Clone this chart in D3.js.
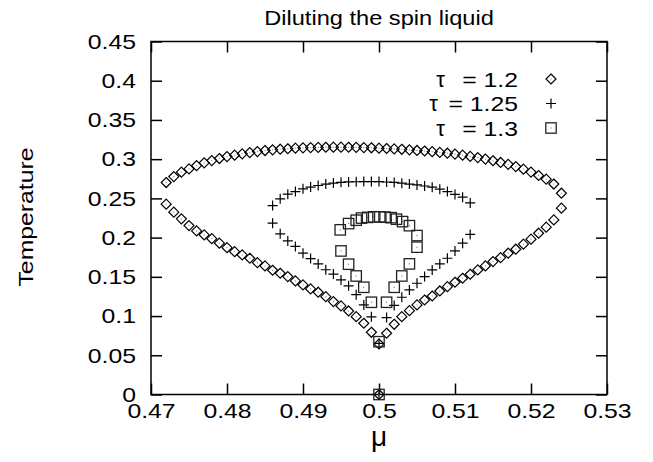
<!DOCTYPE html>
<html><head><meta charset="utf-8">
<script src="https://cdn.jsdelivr.net/npm/d3@7"></script>
<style>body{margin:0;background:#fff} svg{display:block} text{font-family:"Liberation Sans",Arial,sans-serif}</style>
</head><body><svg id="c" width="653" height="462"></svg>
<script>
// ---------- data ----------
const xTickVals = [0.47,0.48,0.49,0.50,0.51,0.52,0.53];
const xTickLabels = ["0.47","0.48","0.49","0.5","0.51","0.52","0.53"];
const yTickVals = [0,0.05,0.10,0.15,0.20,0.25,0.30,0.35,0.40,0.45];
const yTickLabels = ["0","0.05","0.1","0.15","0.2","0.25","0.3","0.35","0.4","0.45"];
const seriesNames = ["1.2","1.25","1.3"];

// tau = 1.2 (diamonds)
const tau12Upper = [[0.472,0.2702],[0.473,0.2778],[0.474,0.2834],[0.475,0.2876],[0.476,0.2918],[0.477,0.2953],[0.478,0.2982],[0.479,0.3008],[0.480,0.3033],[0.481,0.3051],[0.482,0.3068],[0.483,0.3084],[0.484,0.3097],[0.485,0.3110],[0.486,0.3119],[0.487,0.3127],[0.488,0.3133],[0.489,0.3140],[0.490,0.3144],[0.491,0.3148],[0.492,0.3150],[0.493,0.3152],[0.494,0.3153],[0.495,0.3153],[0.496,0.3152],[0.497,0.3151],[0.498,0.3148],[0.499,0.3145],[0.500,0.3140],[0.501,0.3136],[0.502,0.3131],[0.503,0.3126],[0.504,0.3119],[0.505,0.3111],[0.506,0.3104],[0.507,0.3096],[0.508,0.3086],[0.509,0.3076],[0.510,0.3065],[0.511,0.3051],[0.512,0.3035],[0.513,0.3020],[0.514,0.3001],[0.515,0.2980],[0.516,0.2958],[0.517,0.2934],[0.518,0.2905],[0.519,0.2873],[0.520,0.2835],[0.521,0.2792],[0.522,0.2745],[0.523,0.2683],[0.524,0.2566]];
const tau12Lower = [[0.472,0.2426],[0.473,0.2324],[0.474,0.2239],[0.475,0.2153],[0.476,0.2085],[0.477,0.2034],[0.478,0.1987],[0.479,0.1929],[0.480,0.1872],[0.481,0.1821],[0.482,0.1779],[0.483,0.1737],[0.484,0.1681],[0.485,0.1639],[0.486,0.1584],[0.487,0.1546],[0.488,0.1503],[0.489,0.1448],[0.490,0.1397],[0.491,0.1346],[0.492,0.1304],[0.493,0.1247],[0.494,0.1184],[0.495,0.1129],[0.496,0.1065],[0.497,0.0992],[0.498,0.0908],[0.499,0.0793],[0.500,0.0644],[0.501,0.0781],[0.502,0.0895],[0.503,0.0992],[0.504,0.1069],[0.505,0.1142],[0.506,0.1205],[0.507,0.1256],[0.508,0.1320],[0.509,0.1375],[0.510,0.1431],[0.511,0.1482],[0.512,0.1533],[0.513,0.1588],[0.514,0.1639],[0.515,0.1694],[0.516,0.1745],[0.517,0.1801],[0.518,0.1852],[0.519,0.1916],[0.520,0.1980],[0.521,0.2056],[0.522,0.2133],[0.523,0.2226],[0.524,0.2375]];
const tau12Zero = [[0.500,0.0]];

// tau = 1.25 (crosses)
const tau125Upper = [[0.486,0.2408],[0.487,0.2494],[0.488,0.2554],[0.489,0.2587],[0.490,0.2622],[0.491,0.2644],[0.492,0.2664],[0.493,0.2682],[0.494,0.2695],[0.495,0.2705],[0.496,0.2710],[0.497,0.2712],[0.498,0.2714],[0.499,0.2714],[0.500,0.2714],[0.501,0.2709],[0.502,0.2703],[0.503,0.2694],[0.504,0.2682],[0.505,0.2671],[0.506,0.2658],[0.507,0.2643],[0.508,0.2617],[0.509,0.2587],[0.510,0.2550],[0.511,0.2516],[0.512,0.2442]];
const tau125Lower = [[0.486,0.2184],[0.487,0.2048],[0.488,0.1958],[0.489,0.1888],[0.490,0.1801],[0.491,0.1733],[0.492,0.1665],[0.493,0.1590],[0.494,0.1535],[0.495,0.1460],[0.496,0.1385],[0.497,0.1273],[0.498,0.1142],[0.499,0.0990],[0.500,0.0651],[0.501,0.0980],[0.502,0.1136],[0.503,0.1240],[0.504,0.1333],[0.505,0.1418],[0.506,0.1503],[0.507,0.1588],[0.508,0.1665],[0.509,0.1737],[0.510,0.1830],[0.511,0.1929],[0.512,0.2040]];
const tau125Zero = [[0.500,0.0]];

// tau = 1.3 (squares)
const tau13Points = [[0.4949,0.2099],[0.4960,0.2179],[0.4970,0.2222],[0.4977,0.2249],[0.4985,0.2258],[0.4993,0.2265],[0.5001,0.2265],[0.5008,0.2261],[0.5016,0.2254],[0.5023,0.2235],[0.5031,0.2204],[0.5040,0.2152],[0.5050,0.2026],[0.5050,0.1878],[0.5040,0.1665],[0.5030,0.1511],[0.5020,0.1367],[0.5010,0.1176],[0.5000,0.0673],[0.4990,0.1176],[0.4980,0.1367],[0.4970,0.1511],[0.4960,0.1661],[0.4950,0.1830],[0.5000,0.0]];

// ---------- drawing ----------
const svg = d3.select('#c');
const FONT = '"Liberation Sans", Arial, sans-serif';
const K = 1.18;
const x = d3.scaleLinear().domain([0.47,0.53]).range([151,607]);
const y = d3.scaleLinear().domain([0,0.45]).range([394.5,41.5]);

function stretch(sel,k){
  sel.each(function(){
    const L=this.getComputedTextLength();
    if(L>0){this.setAttribute('textLength',L*k);this.setAttribute('lengthAdjust','spacingAndGlyphs');}
  });
}
function styleAxis(g){
  g.select('.domain').remove();
  g.attr('font-family',FONT).attr('font-size',21);
  g.selectAll('.tick line').attr('stroke','#000').attr('stroke-width',1.5);
  g.selectAll('.tick text').attr('fill','#000');
}

svg.append('g').attr('transform','translate(0,394.5)')
  .call(d3.axisBottom(x).tickValues(xTickVals).tickFormat((d,i)=>xTickLabels[i]).tickSizeInner(-11).tickSizeOuter(0).tickPadding(9))
  .call(styleAxis).call(g=>stretch(g.selectAll('text'),K));
svg.append('g').attr('transform','translate(0,41.5)')
  .call(d3.axisTop(x).tickValues(xTickVals).tickFormat('').tickSizeInner(-11).tickSizeOuter(0))
  .call(styleAxis);
svg.append('g').attr('transform','translate(151,0)')
  .call(d3.axisLeft(y).tickValues(yTickVals).tickFormat((d,i)=>yTickLabels[i]).tickSizeInner(-11).tickSizeOuter(0).tickPadding(15))
  .call(styleAxis).call(g=>stretch(g.selectAll('text'),K));
svg.append('g').attr('transform','translate(607,0)')
  .call(d3.axisRight(y).tickValues(yTickVals).tickFormat('').tickSizeInner(-11).tickSizeOuter(0))
  .call(styleAxis);

svg.append('rect').attr('x',151).attr('y',41.5).attr('width',456).attr('height',353)
  .attr('fill','none').attr('stroke','#000').attr('stroke-width',1.5);

// title & labels
svg.append('text').attr('x',379).attr('y',25).attr('text-anchor','middle')
  .attr('font-size',20).text('Diluting the spin liquid').call(s=>stretch(s,K));
svg.append('text').attr('transform','translate(33,217) rotate(-90)').attr('text-anchor','middle')
  .attr('font-size',21).text('Temperature').call(s=>stretch(s,K));
svg.append('text').attr('x',379).attr('y',446).attr('text-anchor','middle')
  .attr('font-family','"Liberation Serif", serif').attr('font-size',28).text('μ');

// markers
const R = 5;
function drawDiamonds(g,data){
  g.selectAll(null).data(data).join('path').attr('d',`M0,${-R}L${R},0L0,${R}L${-R},0Z`)
    .attr('transform',d=>`translate(${x(d[0])},${y(d[1])})`)
    .attr('fill','none').attr('stroke','#000').attr('stroke-width',1.2);
  g.selectAll(null).data(data).join('rect').attr('x',d=>x(d[0])-0.5).attr('y',d=>y(d[1])-0.5)
    .attr('width',1).attr('height',1).attr('fill','#777');
}
function drawCrosses(g,data){
  g.selectAll(null).data(data).join('path').attr('d',`M${-R},0H${R}M0,${-R}V${R}`)
    .attr('transform',d=>`translate(${x(d[0])},${y(d[1])})`)
    .attr('fill','none').attr('stroke','#000').attr('stroke-width',1.2);
}
const S = 5.2;
function drawSquares(g,data){
  g.selectAll(null).data(data).join('rect').attr('x',d=>x(d[0])-S).attr('y',d=>y(d[1])-S)
    .attr('width',2*S).attr('height',2*S)
    .attr('fill','none').attr('stroke','#222').attr('stroke-width',1.3);
  g.selectAll(null).data(data).join('rect').attr('x',d=>x(d[0])-0.5).attr('y',d=>y(d[1])-0.5)
    .attr('width',1).attr('height',1).attr('fill','#555');
}

drawDiamonds(svg.append('g'), tau12Upper.concat(tau12Lower, tau12Zero));
drawCrosses(svg.append('g'), tau125Upper.concat(tau125Lower, tau125Zero));
drawSquares(svg.append('g'), tau13Points);

// legend
const legY = [79,103.5,128];
const legendTauX = [445,438,445];
const legSym = [
  (g,cx,cy)=>{g.append('path').attr('d',`M${cx},${cy-R}L${cx+R},${cy}L${cx},${cy+R}L${cx-R},${cy}Z`).attr('fill','none').attr('stroke','#000').attr('stroke-width',1.2);
              g.append('rect').attr('x',cx-0.5).attr('y',cy-0.5).attr('width',1).attr('height',1).attr('fill','#777');},
  (g,cx,cy)=>{g.append('path').attr('d',`M${cx-R},${cy}H${cx+R}M${cx},${cy-R}V${cy+R}`).attr('stroke','#000').attr('stroke-width',1.2);},
  (g,cx,cy)=>{g.append('rect').attr('x',cx-S).attr('y',cy-S).attr('width',2*S).attr('height',2*S).attr('fill','none').attr('stroke','#222').attr('stroke-width',1.3);
              g.append('rect').attr('x',cx-0.5).attr('y',cy-0.5).attr('width',1).attr('height',1).attr('fill','#555');}
];
const lg = svg.append('g');
seriesNames.forEach((nm,i)=>{
  const cy = legY[i];
  lg.append('text').attr('x',518).attr('y',cy+7.5).attr('text-anchor','end').attr('font-size',21)
    .text('= '+nm).call(s=>stretch(s,K));
  lg.append('text').attr('x',legendTauX[i]).attr('y',cy+7.5).attr('text-anchor','end')
    .attr('font-family','"DejaVu Serif", serif').attr('font-size',22).text('τ');
  legSym[i](lg,551,cy);
});
</script></body></html>
